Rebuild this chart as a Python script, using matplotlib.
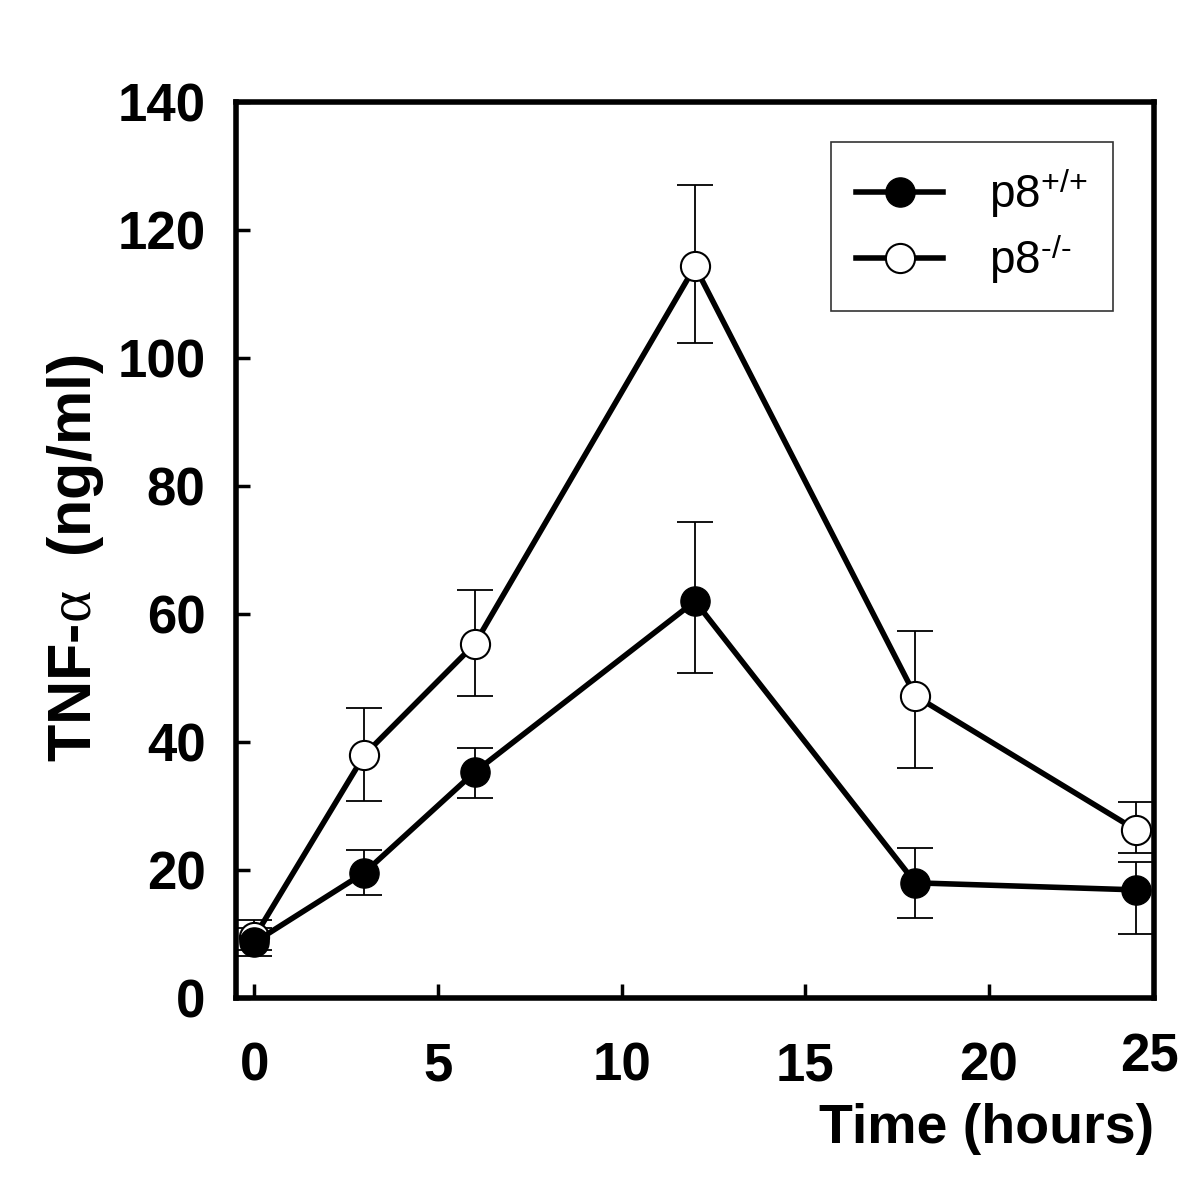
import matplotlib
matplotlib.use("Agg")
import matplotlib.pyplot as plt

plt.rcParams['font.family'] = ['Liberation Sans', 'DejaVu Sans']
plt.rcParams['mathtext.fontset'] = 'custom'
plt.rcParams['mathtext.rm'] = 'Liberation Sans'
plt.rcParams['mathtext.it'] = 'Liberation Serif'
plt.rcParams['mathtext.bf'] = 'Liberation Sans:bold'

# Data
time_h = [0, 3, 6, 12, 18, 24]
wt_mean = [8.7, 19.6, 35.3, 62.0, 18.0, 16.9]
wt_low = [6.6, 16.1, 31.2, 50.8, 12.5, 10.0]
wt_high = [11.0, 23.1, 39.0, 74.4, 23.4, 21.3]
ko_mean = [9.5, 38.0, 55.3, 114.3, 47.2, 26.3]
ko_low = [7.5, 30.8, 47.2, 102.3, 36.0, 22.7]
ko_high = [12.2, 45.3, 63.7, 127.0, 57.3, 30.6]
labels = [r'p8$^{\text{+/+}}$', r'p8$^{\text{-/-}}$']
x_ticks = [0, 5, 10, 15, 20]
y_ticks = [0, 20, 40, 60, 80, 100, 120, 140]

fig = plt.figure(figsize=(11.99, 12.01), dpi=100)
ax = fig.add_axes([0.1968, 0.169, 0.9625 - 0.1968, 0.9151 - 0.169])

def err(mean, lo, hi):
    return [[m - l for m, l in zip(mean, lo)], [h - m for m, h in zip(mean, hi)]]

# error bars (thin, behind markers)
ax.errorbar(time_h, ko_mean, yerr=err(ko_mean, ko_low, ko_high), fmt='none',
            ecolor='black', elinewidth=1.3, capsize=13, capthick=1.3, zorder=1)
ax.errorbar(time_h, wt_mean, yerr=err(wt_mean, wt_low, wt_high), fmt='none',
            ecolor='black', elinewidth=1.3, capsize=13, capthick=1.3, zorder=1)

ax.plot(time_h, ko_mean, '-o', color='black', lw=4, markersize=21,
        markerfacecolor='white', markeredgecolor='black', markeredgewidth=1.5,
        label=labels[1], zorder=3)
ax.plot(time_h, wt_mean, '-o', color='black', lw=4, markersize=21,
        markerfacecolor='black', markeredgecolor='black',
        label=labels[0], zorder=4)

ax.set_xlim(-0.5, 24.5)
ax.set_ylim(0, 140)
ax.set_xticks(x_ticks)
ax.set_yticks(y_ticks)
ax.tick_params(direction='in', length=10, width=2.5, labelsize=38, pad=31)
ax.tick_params(axis='y', pad=22)
for lab in ax.get_xticklabels() + ax.get_yticklabels():
    lab.set_fontweight('bold')
for sp in ax.spines.values():
    sp.set_linewidth(4)

ax.text(0.995, -0.066, '25', transform=ax.transAxes, ha='center', va='center',
        fontsize=38, fontweight='bold')
ax.text(1.0, -0.146, 'Time (hours)', transform=ax.transAxes, ha='right', va='center',
        fontsize=40, fontweight='bold')
fig.text(0.063, 0.535, r'TNF-$\alpha$  (ng/ml)', rotation=90, ha='center', va='center',
         fontsize=44, fontweight='bold')

h, l = ax.get_legend_handles_labels()
leg = ax.legend([h[1], h[0]], [labels[0], labels[1]], loc='upper right',
                bbox_to_anchor=(0.955, 0.955), fontsize=33, frameon=True,
                fancybox=False, edgecolor='black', handlelength=1.9,
                handletextpad=1.0, borderpad=0.55, labelspacing=0.3, borderaxespad=0)
leg.get_frame().set_linewidth(1.2)

fig.savefig('out.png', dpi=100)
